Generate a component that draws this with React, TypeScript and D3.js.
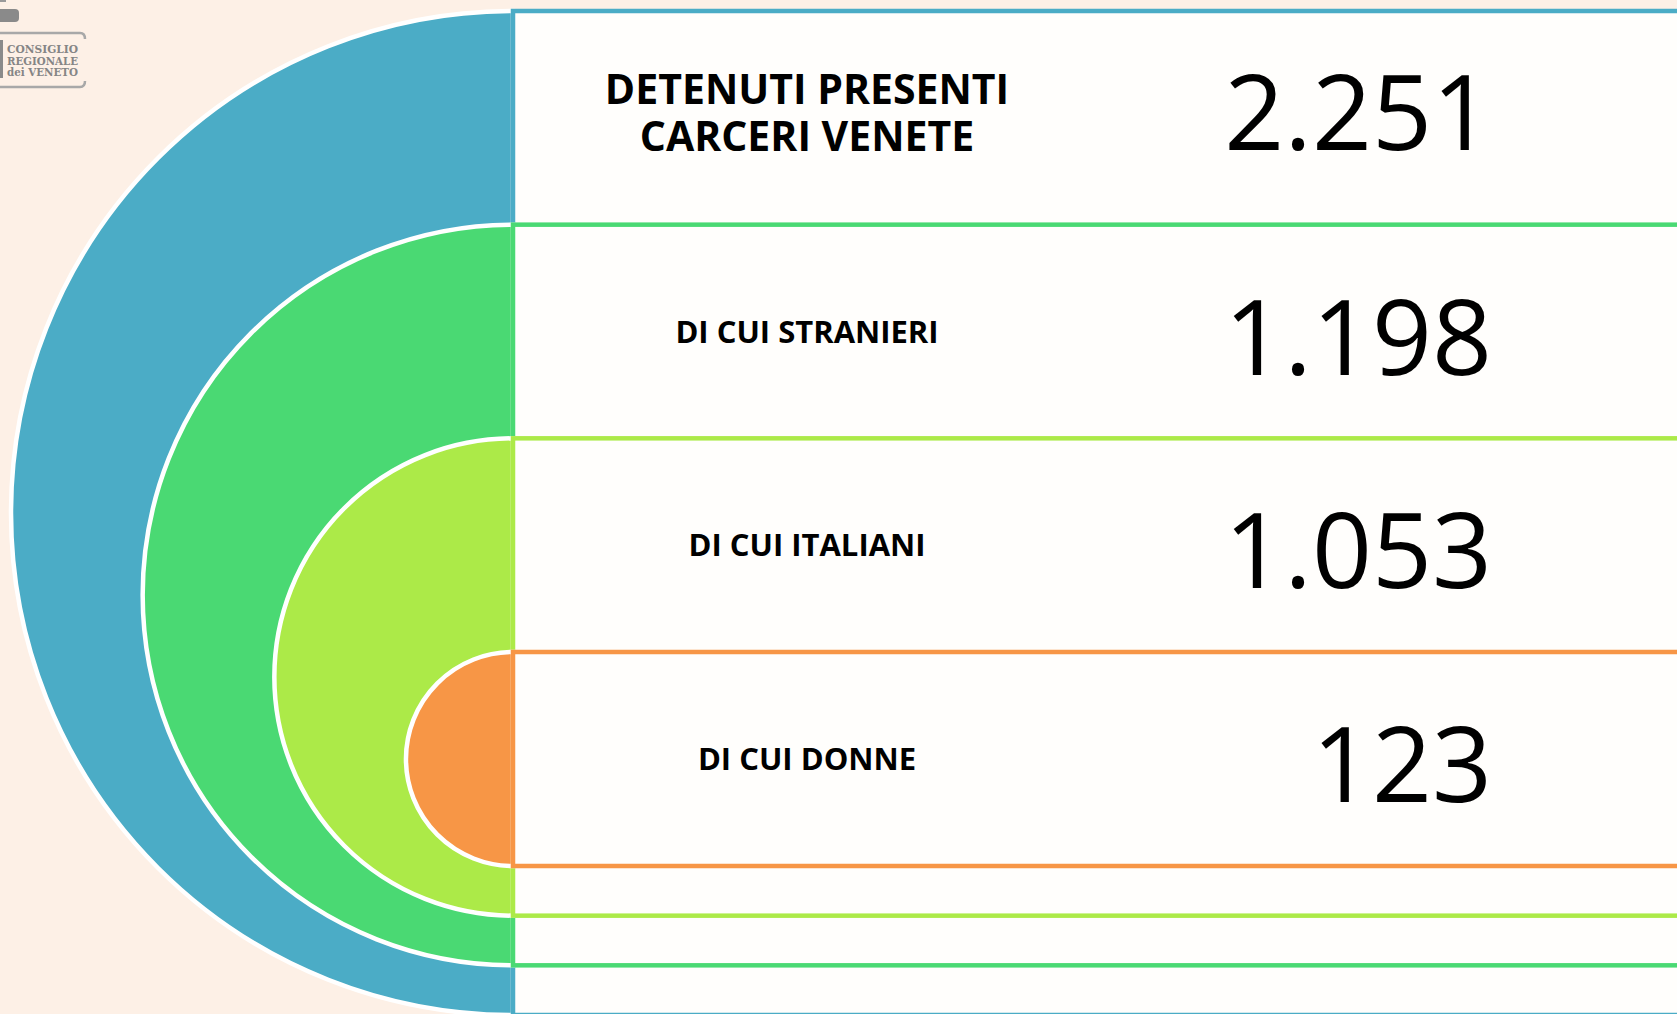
import React, { useEffect, useRef } from 'react';
import * as d3 from 'd3';

// rows of the infographic, outermost ring first
const labels = [['DETENUTI PRESENTI', 'CARCERI VENETE'], ['DI CUI STRANIERI'], ['DI CUI ITALIANI'], ['DI CUI DONNE']];
const values = [2251, 1198, 1053, 123];
const colors = ['#4bacc6', '#4ad973', '#acea48', '#f79646'];
const logoLines = ['CONSIGLIO', 'REGIONALE', 'dei VENETO'];

const W = 1677;
const H = 1014;

const App = () => {
	const svgRef = useRef<SVGSVGElement>(null);

	useEffect(() => {
		document.body.style.margin = '0';
		const svg = d3.select(svgRef.current);
		svg.selectAll('*').remove();

		svg.append('rect').attr('width', W).attr('height', H).attr('fill', '#fdf0e6');

		const idx = d3.range(values.length);
		const cx = 513;
		// ring top edge and radius by position in the stack
		const top = d3.scaleLinear().domain([0, values.length - 1]).range([11, 652]);
		const radius = d3.scaleLinear().domain([0, values.length - 1]).range([502, 107]);
		const bandMid = (i: number) => {
			const next = i < values.length - 1 ? top(i + 1) : top(i) + 2 * radius(i);
			return (top(i) + next) / 2;
		};

		const fmt = d3.formatLocale({ decimal: ',', thousands: '.', grouping: [3], currency: ['€', ''] }).format(',d');
		const half = d3.arc<number>()
			.innerRadius(0)
			.outerRadius(i => radius(i))
			.startAngle(Math.PI)
			.endAngle(2 * Math.PI);

		const g = svg.append('g');
		idx.forEach(i => {
			const r = radius(i);
			g.append('path')
				.attr('d', half(i))
				.attr('transform', `translate(${cx},${top(i) + r})`)
				.attr('fill', colors[i])
				.attr('stroke', '#ffffff')
				.attr('stroke-width', 4.5);
			g.append('rect')
				.attr('x', cx)
				.attr('y', top(i))
				.attr('width', W)
				.attr('height', 2 * r)
				.attr('fill', '#fffefc')
				.attr('stroke', colors[i])
				.attr('stroke-width', 4.5);
		});

		// labels and values
		idx.forEach(i => {
			const mid = bandMid(i);
			const lines = labels[i];
			const big = lines.length > 1;
			const t = svg.append('text')
				.attr('text-anchor', 'middle')
				.attr('font-family', '"Open Sans", sans-serif')
				.attr('font-weight', 700)
				.attr('font-size', big ? 41 : 31)
				.attr('fill', '#000');
			lines.forEach((l, k) => {
				t.append('tspan')
					.attr('x', 807)
					.attr('y', big ? mid - 14 + k * 47 : mid + 11)
					.text(l);
			});

			svg.append('text')
				.attr('x', 1492)
				.attr('y', mid + (big ? 32 : 43))
				.attr('text-anchor', 'end')
				.attr('font-family', '"Open Sans", sans-serif')
				.attr('font-size', 105)
				.attr('fill', '#000')
				.text(fmt(values[i]));
		});

		// logo
		const logo = svg.append('g').attr('fill', 'none');
		logo.append('rect').attr('x', -4).attr('y', 9).attr('width', 23).attr('height', 13).attr('rx', 4).attr('fill', '#8a8a8a');
		logo.append('rect').attr('x', 0).attr('y', 0).attr('width', 6).attr('height', 2).attr('fill', '#9a9a9a');
		logo.append('path')
			.attr('d', 'M0,33 H80 Q85,33 85,39')
			.attr('stroke', '#a8a8a8').attr('stroke-width', 2.5);
		logo.append('path')
			.attr('d', 'M0,87 H80 Q85,87 85,81')
			.attr('stroke', '#a8a8a8').attr('stroke-width', 2.5);
		logo.append('rect').attr('x', 0).attr('y', 40).attr('width', 3).attr('height', 38).attr('fill', '#8a8a8a');
		logoLines.forEach((l, k) => {
			logo.append('text')
				.attr('x', 7)
				.attr('y', 53 + k * 11.5)
				.attr('font-family', '"DejaVu Serif", serif')
				.attr('font-weight', 700)
				.attr('font-size', 10.5)
				.attr('fill', '#858585')
				.attr('textLength', 71)
				.attr('lengthAdjust', 'spacingAndGlyphs')
				.text(l);
		});
	}, []);

	return (
		<svg ref={svgRef} width={W} height={H} style={{ display: 'block' }}></svg>
	);
};

export default App;
